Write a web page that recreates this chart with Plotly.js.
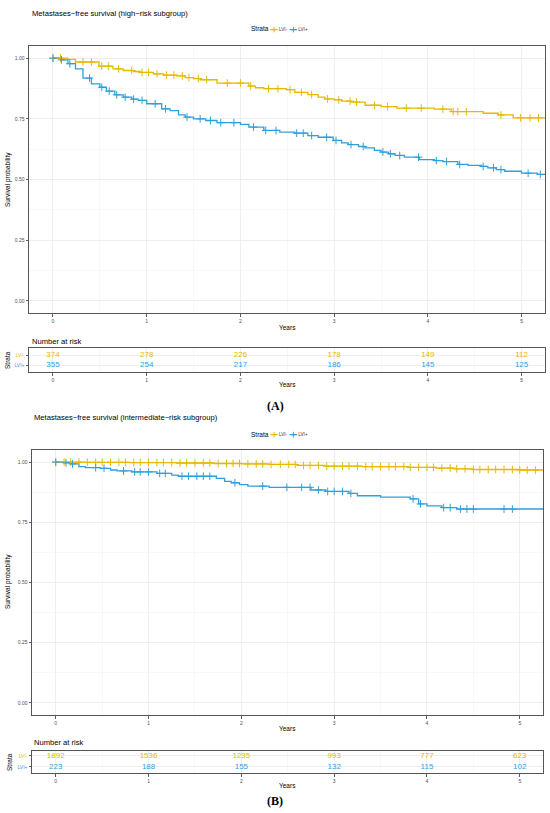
<!DOCTYPE html>
<html>
<head>
<meta charset="utf-8">
<script src="https://cdn.plot.ly/plotly-3.0.1.min.js"></script>
<style>html,body{margin:0;padding:0;background:#fff;}#chart{width:550px;height:813px;}</style>
</head>
<body>
<div id="chart"></div>
<script>
// ---------- DATA ----------
const strata = ['LVI-', 'LVI+'];
const riskTimes = [0, 1, 2, 3, 4, 5];

// Panel A (high-risk subgroup)
const aNegTimes = [0.16, 0.24, 0.49, 0.64, 0.75, 0.86, 0.93, 1.07, 1.18, 1.32, 1.41, 1.5, 1.57, 1.75, 2.09, 2.16, 2.25, 2.49, 2.58, 2.72, 2.83, 2.9, 3.0, 3.08, 3.18, 3.33, 3.5, 3.67, 4.07, 4.25, 4.59, 4.75, 4.91];
const aNegSurv  = [0.995, 0.984, 0.967, 0.956, 0.949, 0.945, 0.941, 0.935, 0.930, 0.927, 0.920, 0.916, 0.911, 0.897, 0.885, 0.878, 0.874, 0.870, 0.859, 0.850, 0.839, 0.832, 0.828, 0.823, 0.819, 0.806, 0.800, 0.794, 0.790, 0.780, 0.773, 0.766, 0.754];
const aNegCensor = [0, 0.08, 0.32, 0.41, 0.52, 0.59, 0.7, 0.84, 0.95, 1.02, 1.11, 1.21, 1.29, 1.38, 1.45, 1.55, 1.64, 1.86, 2.0, 2.11, 2.3, 2.40, 2.53, 2.65, 2.76, 2.93, 3.05, 3.17, 3.24, 3.43, 3.57, 3.77, 3.93, 4.16, 4.27, 4.32, 4.41, 4.78, 4.99, 5.09, 5.18];

const aPosTimes = [0.08, 0.16, 0.24, 0.32, 0.41, 0.5, 0.57, 0.66, 0.75, 0.84, 0.91, 1.0, 1.16, 1.25, 1.34, 1.41, 1.5, 1.63, 1.75, 2.0, 2.09, 2.25, 2.42, 2.58, 2.72, 2.83, 2.99, 3.08, 3.15, 3.26, 3.33, 3.43, 3.5, 3.58, 3.65, 3.75, 3.91, 4.07, 4.16, 4.32, 4.43, 4.57, 4.64, 4.73, 4.82, 5.0, 5.17];
const aPosSurv  = [0.993, 0.977, 0.956, 0.918, 0.894, 0.880, 0.864, 0.849, 0.839, 0.831, 0.826, 0.812, 0.791, 0.784, 0.766, 0.757, 0.750, 0.743, 0.734, 0.727, 0.716, 0.702, 0.695, 0.691, 0.681, 0.674, 0.661, 0.651, 0.644, 0.636, 0.630, 0.620, 0.613, 0.606, 0.599, 0.592, 0.582, 0.578, 0.574, 0.562, 0.558, 0.554, 0.548, 0.541, 0.534, 0.526, 0.521];
const aPosCensor = [0, 0.09, 0.18, 0.39, 0.52, 0.6, 0.68, 0.77, 0.86, 0.95, 1.09, 1.2, 1.43, 1.57, 1.68, 1.79, 1.93, 2.14, 2.27, 2.38, 2.6, 2.67, 2.76, 2.92, 3.02, 3.18, 3.31, 3.52, 3.6, 3.7, 3.9, 4.09, 4.2, 4.34, 4.59, 4.7, 4.78, 5.07, 5.2];
const aRiskNeg = [374, 278, 226, 178, 149, 112];
const aRiskPos = [355, 254, 217, 186, 145, 125];

// Panel B (intermediate-risk subgroup)
const bNegTimes = [0.3, 0.8, 1.3, 1.7, 2.0, 2.3, 2.6, 2.9, 3.3, 3.8, 4.1, 4.3, 4.5, 5.0];
const bNegSurv  = [0.999, 0.998, 0.996, 0.994, 0.992, 0.990, 0.986, 0.983, 0.981, 0.978, 0.975, 0.972, 0.969, 0.967];
const bNegCensor = [0, 0.09, 0.16, 0.25, 0.34, 0.43, 0.5, 0.59, 0.68, 0.75, 0.84, 0.91, 1.0, 1.09, 1.16, 1.25, 1.34, 1.41, 1.5, 1.59, 1.66, 1.75, 1.84, 1.91, 1.98, 2.07, 2.16, 2.23, 2.32, 2.42, 2.51, 2.58, 2.67, 2.74, 2.83, 2.92, 3.0, 3.09, 3.16, 3.25, 3.34, 3.41, 3.5, 3.59, 3.66, 3.75, 3.82, 3.91, 4.0, 4.07, 4.16, 4.25, 4.32, 4.41, 4.5, 4.57, 4.66, 4.74, 4.83, 4.92, 5.0, 5.08, 5.17];

const bPosTimes = [0.09, 0.16, 0.25, 0.32, 0.48, 0.59, 0.66, 0.82, 1.09, 1.25, 1.32, 1.73, 1.82, 1.89, 1.98, 2.07, 2.3, 2.75, 2.91, 3.16, 3.25, 3.5, 3.82, 3.91, 4.0, 4.16, 4.32];
const bPosSurv  = [0.997, 0.992, 0.981, 0.977, 0.974, 0.967, 0.963, 0.959, 0.953, 0.946, 0.941, 0.932, 0.920, 0.914, 0.906, 0.900, 0.895, 0.884, 0.878, 0.870, 0.860, 0.854, 0.847, 0.826, 0.818, 0.811, 0.805];
const bPosCensor = [0, 0.11, 0.18, 0.43, 0.52, 0.73, 0.85, 0.91, 1.0, 1.12, 1.18, 1.36, 1.43, 1.52, 1.59, 1.66, 1.93, 2.23, 2.49, 2.65, 2.74, 2.83, 2.93, 3.0, 3.09, 3.18, 3.85, 3.93, 4.18, 4.25, 4.36, 4.43, 4.5, 4.83, 4.92];
const bRiskNeg = [1892, 1536, 1235, 993, 777, 623];
const bRiskPos = [223, 188, 155, 132, 115, 102];

const titleA = 'Metastases\u2212free survival (high\u2212risk subgroup)';
const titleB = 'Metastases\u2212free survival (intermediate\u2212risk subgroup)';

// ---------- STYLE ----------
const COL = {'LVI-': '#E7B800', 'LVI+': '#2E9FDF'};
const FONT = 'Liberation Sans, Arial, sans-serif';
const XMAX = 5.25;
const W = 550, H = 813;
const LEG_SCALE = 0.25;
const px = v => v / W;
const py = v => 1 - v / H;

function stepAt(times, surv, t) {
  let s = 1;
  for (let i = 0; i < times.length; i++) { if (times[i] <= t) s = surv[i]; }
  return s;
}
function curve(times, surv, name, xa, ya) {
  return {
    type: 'scatter', mode: 'lines', line: {shape: 'hv', color: COL[name], width: 1.3},
    x: [0].concat(times, [XMAX]), y: [1].concat(surv, [surv[surv.length - 1]]),
    xaxis: xa, yaxis: ya, showlegend: false, hoverinfo: 'skip'
  };
}
function censor(times, surv, cens, name, xa, ya) {
  return {
    type: 'scatter', mode: 'markers', x: cens, y: cens.map(t => stepAt(times, surv, t)),
    marker: {symbol: 'cross-thin-open', size: 5.5, color: COL[name], line: {color: COL[name], width: 1}},
    xaxis: xa, yaxis: ya, showlegend: false, hoverinfo: 'skip'
  };
}
function legendItem(name, legend) {
  return {
    type: 'scatter', mode: 'lines+markers', name: name, x: [null], y: [null],
    line: {color: COL[name], width: 1.3 / LEG_SCALE},
    marker: {symbol: 'cross-thin-open', size: 16, color: COL[name], line: {color: COL[name], width: 1 / LEG_SCALE}},
    legend: legend, xaxis: 'x', yaxis: 'y'
  };
}
function riskText(vals, name, xa, ya) {
  return {
    type: 'scatter', mode: 'text', x: riskTimes, y: vals.map(() => name), text: vals.map(String),
    textfont: {family: FONT, size: 8, color: COL[name]}, textposition: 'middle center',
    xaxis: xa, yaxis: ya, showlegend: false, hoverinfo: 'skip'
  };
}

const traces = [
  curve(aNegTimes, aNegSurv, 'LVI-', 'x', 'y'),
  curve(aPosTimes, aPosSurv, 'LVI+', 'x', 'y'),
  censor(aNegTimes, aNegSurv, aNegCensor, 'LVI-', 'x', 'y'),
  censor(aPosTimes, aPosSurv, aPosCensor, 'LVI+', 'x', 'y'),
  riskText(aRiskNeg, 'LVI-', 'x2', 'y2'),
  riskText(aRiskPos, 'LVI+', 'x2', 'y2'),
  curve(bNegTimes, bNegSurv, 'LVI-', 'x3', 'y3'),
  curve(bPosTimes, bPosSurv, 'LVI+', 'x3', 'y3'),
  censor(bNegTimes, bNegSurv, bNegCensor, 'LVI-', 'x3', 'y3'),
  censor(bPosTimes, bPosSurv, bPosCensor, 'LVI+', 'x3', 'y3'),
  riskText(bRiskNeg, 'LVI-', 'x4', 'y4'),
  riskText(bRiskPos, 'LVI+', 'x4', 'y4'),
  legendItem(strata[0], 'legend'), legendItem(strata[1], 'legend'),
  legendItem(strata[0], 'legend2'), legendItem(strata[1], 'legend2')
];

const tickFont = {family: FONT, size: 5, color: '#4d4d4d'};
function xAxis(domain, anchor) {
  return {
    domain: domain, anchor: anchor, range: [-0.256, XMAX], tickvals: riskTimes,
    ticks: 'outside', ticklen: 2.5, tickcolor: '#333', tickwidth: 0.8, tickfont: tickFont,
    showline: true, mirror: true, linecolor: '#555', linewidth: 1,
    showgrid: true, gridcolor: '#ebebeb', gridwidth: 0.8,
    minor: {showgrid: true, gridcolor: '#f4f4f4', gridwidth: 0.6, dtick: 0.5, tick0: 0.5},
    zeroline: false, fixedrange: true
  };
}
function ySurv(domain, anchor) {
  return {
    domain: domain, anchor: anchor, range: [-0.05, 1.05], tickvals: [0, 0.25, 0.5, 0.75, 1],
    ticktext: ['0.00', '0.25', '0.50', '0.75', '1.00'],
    ticks: 'outside', ticklen: 2.5, tickcolor: '#333', tickwidth: 0.8, tickfont: tickFont,
    showline: true, mirror: true, linecolor: '#555', linewidth: 1,
    showgrid: true, gridcolor: '#ebebeb', gridwidth: 0.8,
    minor: {showgrid: true, gridcolor: '#f4f4f4', gridwidth: 0.6, dtick: 0.125, tick0: 0.125},
    zeroline: false, fixedrange: true
  };
}
function yRisk(domain, anchor, range) {
  return {
    domain: domain, anchor: anchor, type: 'category', categoryorder: 'array', categoryarray: ['LVI+', 'LVI-'],
    range: range, tickvals: ['LVI+', 'LVI-'],
    ticktext: ['<span style="color:' + COL['LVI+'] + '">LVI+</span>', '<span style="color:' + COL['LVI-'] + '">LVI-</span>'],
    ticks: 'outside', ticklen: 2.5, tickcolor: '#333', tickwidth: 0.8, tickfont: {family: FONT, size: 5},
    showline: true, mirror: true, linecolor: '#555', linewidth: 1,
    showgrid: true, gridcolor: '#ebebeb', gridwidth: 0.8, zeroline: false, fixedrange: true
  };
}

function ann(text, x, y, opts) {
  return Object.assign({text: text, x: px(x), y: py(y), xref: 'paper', yref: 'paper', showarrow: false,
    font: {family: FONT, size: 6.5, color: '#000'}, xanchor: 'center', yanchor: 'middle'}, opts || {});
}
function legendBox(yTop) {
  return {orientation: 'h', x: px(269), y: py(yTop), xanchor: 'left', yanchor: 'top',
    font: {family: FONT, size: 4.6 / LEG_SCALE, color: '#333'}, itemwidth: 30,
    bgcolor: 'rgba(0,0,0,0)', borderwidth: 0, tracegroupgap: 0, itemsizing: 'trace'};
}

const layout = {
  width: W, height: H, margin: {l: 0, r: 0, t: 0, b: 0},
  paper_bgcolor: '#fff', plot_bgcolor: '#fff', showlegend: true,
  xaxis: xAxis([px(29), px(545)], 'y'),
  yaxis: ySurv([py(313), py(46)], 'x'),
  xaxis2: xAxis([px(29), px(545)], 'y2'),
  yaxis2: yRisk([py(372), py(348)], 'x2', [-0.7, 1.7]),
  xaxis3: xAxis([px(32), px(543)], 'y3'),
  yaxis3: ySurv([py(715), py(450)], 'x3'),
  xaxis4: xAxis([px(32), px(543)], 'y4'),
  yaxis4: yRisk([py(773), py(751)], 'x4', [-0.55, 1.45]),
  legend: legendBox(25),
  legend2: legendBox(430),
  annotations: [
    ann(titleA, 30, 13, {xanchor: 'left', font: {family: FONT, size: 7.6, color: '#000'}}),
    ann('Strata', 249, 29, {xanchor: 'left'}),
    ann('Survival probability', 8, 180, {textangle: -90}),
    ann('Years', 287, 327),
    ann('Number at risk', 30, 341, {xanchor: 'left', font: {family: FONT, size: 7.6, color: '#000'}}),
    ann('Strata', 7, 360, {textangle: -90}),
    ann('Years', 287, 384),
    ann('<b>(A)</b>', 275, 406, {font: {family: 'Liberation Serif, Times New Roman, serif', size: 12, color: '#000'}}),
    ann(titleB, 32, 417, {xanchor: 'left', font: {family: FONT, size: 7.6, color: '#000'}}),
    ann('Strata', 249, 434, {xanchor: 'left'}),
    ann('Survival probability', 8, 582, {textangle: -90}),
    ann('Years', 287, 728),
    ann('Number at risk', 32, 742, {xanchor: 'left', font: {family: FONT, size: 7.6, color: '#000'}}),
    ann('Strata', 9, 762, {textangle: -90}),
    ann('Years', 287, 785),
    ann('<b>(B)</b>', 275, 801, {font: {family: 'Liberation Serif, Times New Roman, serif', size: 12, color: '#000'}})
  ]
};

Plotly.newPlot('chart', traces, layout, {staticPlot: true, displayModeBar: false}).then(function (gd) {
  // shrink every legend group so its keys match the compact ggplot legend
  gd.querySelectorAll('g.infolayer > g').forEach(function (g) {
    const cls = g.getAttribute('class') || '';
    if (/^legend\d*$/.test(cls.trim())) {
      const t = g.getAttribute('transform') || '';
      g.setAttribute('transform', t + ' scale(' + LEG_SCALE + ')');
    }
  });
});
</script>
</body>
</html>
